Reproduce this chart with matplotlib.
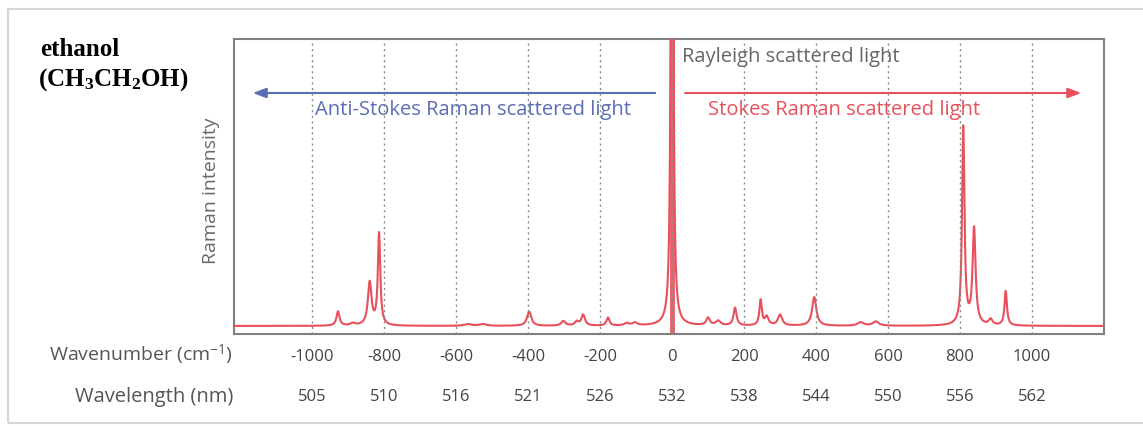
import numpy as np
import matplotlib
matplotlib.use("Agg")
import matplotlib.pyplot as plt
from matplotlib.patches import Rectangle
import matplotlib.transforms as mtransforms

# ---------------- data ----------------
# Raman peaks of ethanol (position in cm^-1, relative height, half width in cm^-1)
peak_pos = [-928, -887, -840, -814, -567, -525, -397, -302, -265, -247, -178, -126, -103,
            0,
            100, 128, 175, 246, 263, 300, 395, 524, 566, 809, 839, 885, 927]
peak_height = [0.050, 0.008, 0.150, 0.320, 0.006, 0.006, 0.050, 0.016, 0.014, 0.038, 0.028, 0.008, 0.010,
               6.0,
               0.026, 0.016, 0.062, 0.088, 0.030, 0.038, 0.100, 0.012, 0.015, 0.690, 0.335, 0.020, 0.120]
peak_width = [5, 8, 6, 4, 12, 12, 7, 7, 6, 6, 5, 8, 8,
              2,
              6, 8, 5, 4, 6, 7, 7, 10, 10, 4, 5, 6, 4]
rayleigh_pos = 0

wavenumber_ticks = [-1000, -800, -600, -400, -200, 0, 200, 400, 600, 800, 1000]
wavelength_labels = ["505", "510", "516", "521", "526", "532", "538", "544", "550", "556", "562"]

# ---------------- spectrum ----------------
x = np.linspace(-1220, 1200, 6000)
y = np.zeros_like(x)
for p, h, w in zip(peak_pos, peak_height, peak_width):
    y += h * w**2 / ((x - p) ** 2 + w**2)

RED = "#e8505b"
BLUE = "#5b6db3"
GRAY_TXT = "#555555"
SANS = ["Open Sans", "DejaVu Sans"]

plt.rcParams["mathtext.fontset"] = "custom"
plt.rcParams["mathtext.rm"] = "Liberation Serif:bold"
plt.rcParams["mathtext.it"] = "Liberation Serif:bold"
plt.rcParams["mathtext.bf"] = "Liberation Serif:bold"
plt.rcParams["mathtext.sf"] = "Open Sans"

fig = plt.figure(figsize=(11.43, 4.27), dpi=100)
fig.patch.set_facecolor("white")

# outer light frame
fig.patches.append(Rectangle((8 / 1143, 3 / 427), 1.2, (417 - 3) / 427, transform=fig.transFigure,
                             fill=False, edgecolor="#d6d6d6", linewidth=1.5))

ax = fig.add_axes([234 / 1143, 1 - 335 / 427, (1104 - 234) / 1143, (335 - 40) / 427])
ax.set_xlim(-1217, 1200)
ax.set_ylim(-0.028, 1.0)

ax.plot(x, y, color=RED, lw=1.5, zorder=3)
ax.axvline(rayleigh_pos, color=RED, lw=3.5, alpha=0.9, zorder=2)

# grid
for t in wavenumber_ticks:
    ax.axvline(t, color="#8a8a8a", lw=1.0, ls=(0, (1.5, 2.5)), zorder=4)

for s in ax.spines.values():
    s.set_color("#808080")
    s.set_linewidth(1.5)

ax.set_yticks([])
ax.set_xticks(wavenumber_ticks)
ax.set_xticklabels([str(t) for t in wavenumber_ticks], fontsize=12, color="#444444", family=SANS)
ax.tick_params(axis="x", length=0, pad=10)

trans = mtransforms.blended_transform_factory(ax.transData, ax.transAxes)
for t, lab in zip(wavenumber_ticks, wavelength_labels):
    ax.text(t, -0.21, lab, transform=trans, ha="center", va="center", fontsize=12,
            color="#444444", family=SANS)

fig.text(233 / 1143, 1 - 355 / 427, "Wavenumber (cm$^{\\mathsf{-1}}$)", ha="right", va="center",
         fontsize=14, color=GRAY_TXT, family=SANS)
fig.text(233 / 1143, 1 - 397 / 427, "Wavelength (nm)", ha="right", va="center",
         fontsize=14.5, color=GRAY_TXT, family=SANS)

fig.text(211 / 1143, 1 - 191 / 427, "Raman intensity", rotation=90, ha="center", va="center",
         fontsize=14, color="#6a6a6a", family=SANS)

# title-like label
fig.text(40 / 1143, 1 - 50 / 427, "ethanol", ha="left", va="center", fontsize=18,
         family="Liberation Serif", weight="bold", color="black")
fig.text(38 / 1143, 1 - 80 / 427, "(CH$_3$CH$_2$OH)", ha="left", va="center", fontsize=18,
         family="Liberation Serif", weight="bold", color="black")

# annotations
ax.text(28, 1 - (57 - 40) / 295, "Rayleigh scattered light", transform=trans,
        ha="left", va="center", fontsize=14.5, color="#666666", family=SANS)
ax.annotate("", xy=(-1165, 1 - (94 - 40) / 295), xytext=(-47, 1 - (94 - 40) / 295),
            xycoords=trans, textcoords=trans,
            arrowprops=dict(arrowstyle="-|>,head_length=0.8,head_width=0.3", color=BLUE, lw=1.5,
                            shrinkA=0, shrinkB=0))
ax.annotate("", xy=(1137, 1 - (94 - 40) / 295), xytext=(36, 1 - (94 - 40) / 295),
            xycoords=trans, textcoords=trans,
            arrowprops=dict(arrowstyle="-|>,head_length=0.8,head_width=0.3", color=RED, lw=1.5,
                            shrinkA=0, shrinkB=0))
ax.text(-554, 1 - (110 - 40) / 295, "Anti-Stokes Raman scattered light", transform=trans,
        ha="center", va="center", fontsize=14.5, color=BLUE, family=SANS)
ax.text(478, 1 - (110 - 40) / 295, "Stokes Raman scattered light", transform=trans,
        ha="center", va="center", fontsize=14.5, color=RED, family=SANS)

fig.savefig("out.png", dpi=100)
